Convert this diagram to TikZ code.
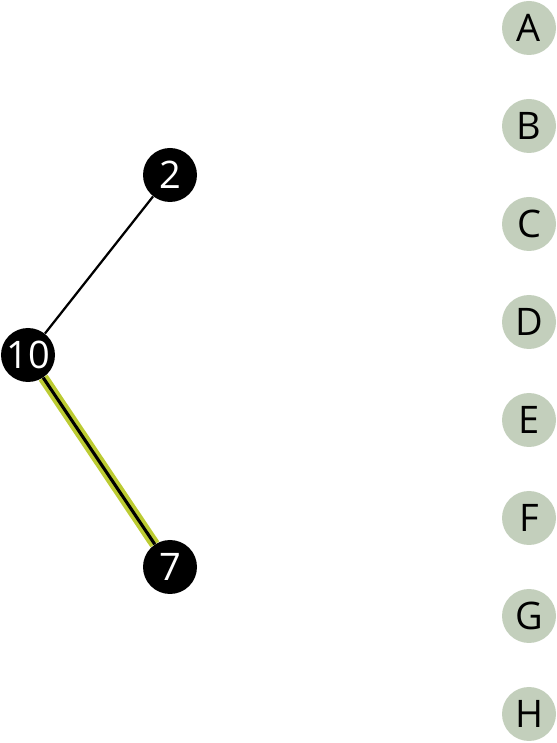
\documentclass[tikz,border=0pt]{standalone}
\usepackage{fontspec}
\setmainfont{Open Sans}
\usepackage{tikz}

\definecolor{leafgreen}{HTML}{C3CFBC}
\definecolor{pathgreen}{HTML}{BCCB32}

\begin{document}
\begin{tikzpicture}[
  vertex/.style={
      circle,
      inner sep=0pt,
      minimum size=1.35cm,
      text centered,
      font=\fontsize{27}{32}\selectfont
  },
  inner/.style={
      vertex,
      fill=black,
      text=white
  },
  leaf/.style={
      vertex,
      fill=leafgreen,
      text=black
  },
  edge/.style={
      black,
      line width=1.6pt
  },
  highlight/.style={
      pathgreen,
      line width=7.5pt
  }
]

\useasboundingbox (0,0) rectangle (13.925,18.575);

% ==================================================
% Tree Nodes
% ==================================================

\node[inner] (n2) at (4.25,14.2) {2};
\node[inner] (n10) at (0.7,9.7) {10};
\node[inner] (n7) at (4.25,4.4) {7};

% ==================================================
% Connections
% ==================================================

\draw[highlight]
(n10) -- (n7);

\draw[edge, line width=2.2pt]
(n10) -- (n7);

\draw[edge]
(n10) -- (n2);

% ==================================================
% Right Side : Letters
% ==================================================

\node[leaf] (la) at (13.225,17.875) {A};
\node[leaf] (lb) at (13.225,15.425) {B};
\node[leaf] (lc) at (13.225,12.975) {C};
\node[leaf] (ld) at (13.225,10.525) {D};
\node[leaf] (le) at (13.225,8.075) {E};
\node[leaf] (lf) at (13.225,5.625) {F};
\node[leaf] (lg) at (13.225,3.175) {G};
\node[leaf] (lh) at (13.225,0.725) {H};

\end{tikzpicture}
\end{document}
